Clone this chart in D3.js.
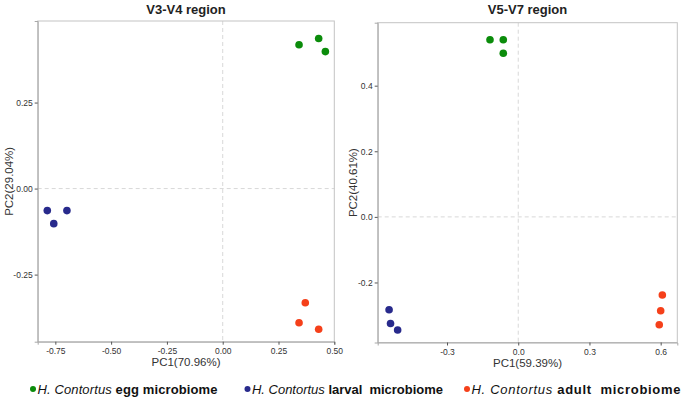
<!DOCTYPE html>
<html><head><meta charset="utf-8">
<script src="https://cdn.jsdelivr.net/npm/d3@7"></script>
<style>
html,body{margin:0;padding:0;background:#fff;}
svg{display:block;font-family:"Liberation Sans",Arial,sans-serif;}
</style></head>
<body><svg id="chart" width="685" height="401"></svg>
<script>
// ---- Data ----
const groups = ["egg", "larval", "adult"];
const groupColors = ["#0b8c0b", "#282a8c", "#f5401a"];
const legendItalic = ["H. Contortus", "H. Contortus", "H. Contortus"];
const legendRest = [" egg microbiome", " larval  microbiome", " adult  microbiome"];

// V3-V4 region
const v34Group = ["egg","egg","egg","larval","larval","larval","adult","adult","adult"];
const v34PC1 = [0.342, 0.430, 0.460, -0.786, -0.698, -0.757, 0.370, 0.342, 0.430];
const v34PC2 = [0.418, 0.436, 0.398, -0.064, -0.064, -0.102, -0.332, -0.390, -0.409];
const v34XTicks = [-0.75, -0.5, -0.25, 0, 0.25, 0.5];
const v34XTickLabels = ["-0.75", "-0.50", "-0.25", "0.00", "0.25", "0.50"];
const v34YTicks = [-0.25, 0, 0.25];
const v34YTickLabels = ["-0.25", "0.00", "0.25"];

// V5-V7 region
const v57Group = ["egg","egg","egg","larval","larval","larval","adult","adult","adult"];
const v57PC1 = [-0.119, -0.063, -0.063, -0.544, -0.538, -0.508, 0.607, 0.600, 0.594];
const v57PC2 = [0.540, 0.540, 0.499, -0.283, -0.325, -0.345, -0.238, -0.286, -0.329];
const v57XTicks = [-0.3, 0, 0.3, 0.6];
const v57XTickLabels = ["-0.3", "0.0", "0.3", "0.6"];
const v57YTicks = [-0.2, 0, 0.2, 0.4];
const v57YTickLabels = ["-0.2", "0.0", "0.2", "0.4"];

const color = d3.scaleOrdinal().domain(groups).range(groupColors);
const svg = d3.select("#chart");

function panel(opt) {
  const x = d3.scaleLinear().domain(opt.xDomain).range([opt.left, opt.right]);
  const y = d3.scaleLinear().domain(opt.yDomain).range([opt.bottom, opt.top]);
  const g = svg.append("g");

  // zero reference lines
  g.append("line").attr("x1", x(0)).attr("x2", x(0)).attr("y1", opt.top).attr("y2", opt.bottom)
    .attr("stroke", "#d8d8d8").attr("stroke-dasharray", "4,3").attr("stroke-width", 1);
  g.append("line").attr("x1", opt.left).attr("x2", opt.right).attr("y1", y(0)).attr("y2", y(0))
    .attr("stroke", "#d8d8d8").attr("stroke-dasharray", "4,3").attr("stroke-width", 1);

  // frame
  g.append("rect").attr("x", opt.left).attr("y", opt.top)
    .attr("width", opt.right - opt.left).attr("height", opt.bottom - opt.top)
    .attr("fill", "none").attr("stroke", "#c4c4c4").attr("stroke-width", 1);

  // axes
  const xa = g.append("g").attr("transform", `translate(0,${opt.bottom})`)
    .call(d3.axisBottom(x).tickValues(opt.xTicks).tickSize(3).tickPadding(3)
      .tickFormat((d, i) => opt.xLabels[i]));
  const ya = g.append("g").attr("transform", `translate(${opt.left},0)`)
    .call(d3.axisLeft(y).tickValues(opt.yTicks).tickSize(3).tickPadding(2)
      .tickFormat((d, i) => opt.yLabels[i]));
  [xa, ya].forEach(a => {
    a.select(".domain").attr("stroke", "#a8a8a8");
    a.selectAll(".tick line").attr("stroke", "#555");
    a.selectAll(".tick text").attr("fill", "#333").attr("font-size", "8.5px")
      .attr("font-family", "Liberation Sans, Arial, sans-serif");
  });

  // points
  g.selectAll("circle.pt").data(opt.pc1.map((v, i) => ({x: v, y: opt.pc2[i], g: opt.grp[i]})))
    .join("circle").attr("class", "pt")
    .attr("cx", d => x(d.x)).attr("cy", d => y(d.y)).attr("r", 3.8)
    .attr("fill", d => color(d.g));

  // titles
  g.append("text").attr("x", (opt.left + opt.right) / 2).attr("y", 14)
    .attr("text-anchor", "middle").attr("font-size", "13px").attr("font-weight", "bold")
    .attr("fill", "#222").text(opt.title);
  g.append("text").attr("x", (opt.left + opt.right) / 2).attr("y", opt.bottom + 24)
    .attr("text-anchor", "middle").attr("font-size", "11.5px").attr("fill", "#333").text(opt.xTitle);
  g.append("text").attr("transform", `translate(${opt.left - opt.yTitleOffset},${(opt.top + opt.bottom) / 2}) rotate(-90)`)
    .attr("text-anchor", "middle").attr("font-size", "11.5px").attr("fill", "#333").text(opt.yTitle);
}

panel({
  left: 37.7, right: 334.3, top: 21, bottom: 341.7, yTitleOffset: 25,
  xDomain: [-0.829, 0.5], yDomain: [-0.445, 0.487],
  xTicks: v34XTicks, xLabels: v34XTickLabels, yTicks: v34YTicks, yLabels: v34YTickLabels,
  pc1: v34PC1, pc2: v34PC2, grp: v34Group,
  title: "V3-V4 region", xTitle: "PC1(70.96%)", yTitle: "PC2(29.04%)"
});
panel({
  left: 377.7, right: 677.3, top: 22.7, bottom: 342.5, yTitleOffset: 21,
  xDomain: [-0.592, 0.670], yDomain: [-0.383, 0.592],
  xTicks: v57XTicks, xLabels: v57XTickLabels, yTicks: v57YTicks, yLabels: v57YTickLabels,
  pc1: v57PC1, pc2: v57PC2, grp: v57Group,
  title: "V5-V7 region", xTitle: "PC1(59.39%)", yTitle: "PC2(40.61%)"
});

// legend
const legendX = [33, 247.5, 467];
const legendWidth = [180, 191, 209];
const lg = svg.append("g");
groups.forEach((grp, i) => {
  lg.append("circle").attr("cx", legendX[i]).attr("cy", 389).attr("r", 3).attr("fill", color(grp));
  const t = lg.append("text").attr("x", legendX[i] + 4.5).attr("y", 393.5)
    .attr("font-size", "13px").attr("fill", "#111").style("white-space", "pre")
    .attr("textLength", legendWidth[i]).attr("lengthAdjust", "spacing");
  t.append("tspan").attr("font-style", "italic").text(legendItalic[i]);
  t.append("tspan").attr("font-weight", "bold").text(legendRest[i]);
});
</script></body></html>
